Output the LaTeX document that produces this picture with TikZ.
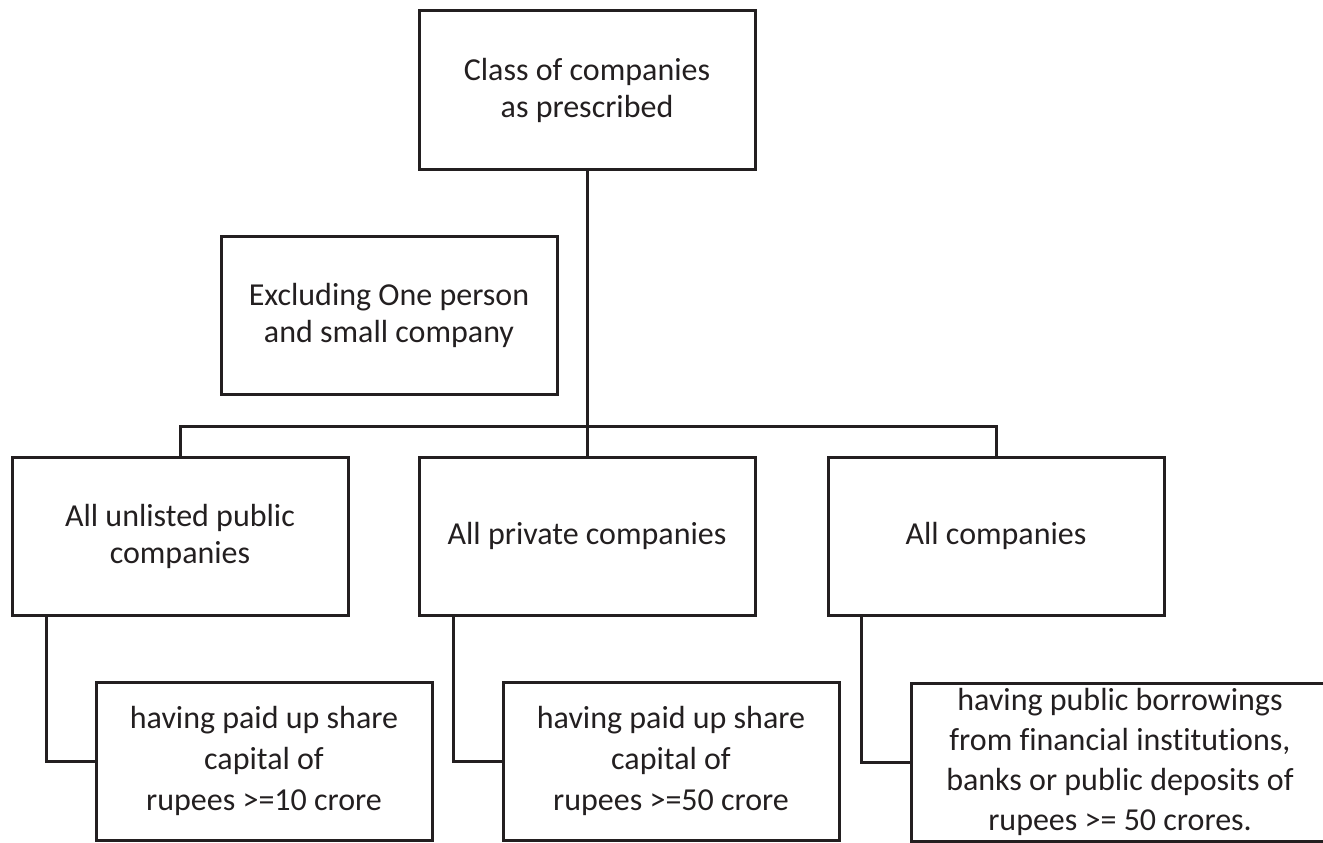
\documentclass[tikz,border=0pt]{standalone}
\usepackage{fontspec}
\setmainfont{Carlito}[Ligatures=NoCommon]
\definecolor{ink}{HTML}{231F20}
\begin{document}
\begin{tikzpicture}[x=1pt,y=-1pt,
  box/.style={draw=ink, line width=3pt, minimum width=336pt, minimum height=158pt,
    inner sep=0pt, align=center, text=ink, font=\fontsize{32}{37}\selectfont},
  lowbox/.style={box, font=\fontsize{32}{41}\selectfont},
  link/.style={draw=ink, line width=3pt}]
\useasboundingbox (0,0) rectangle (1323,843);
\node[box] (top) at (587,90) {Class of companies\\as prescribed};
\node[box] (excl) at (389,315) {Excluding One person\\and small company};
\node[box] (unl) at (180,536) {All unlisted public\\companies};
\node[box] (priv) at (587,536) {All private companies};
\node[box] (all) at (996,536) {All companies};
\node[lowbox] (unlc) at (264,761) {having paid up share\\capital of\\rupees >=10 crore};
\node[lowbox] (privc) at (671,761) {having paid up share\\capital of\\rupees >=50 crore};
\node[box, minimum width=418pt, font=\fontsize{32}{40}\selectfont] (allc) at (1120,762) {having public borrowings\\from financial institutions,\\banks or public deposits of\\rupees >= 50 crores.};
\coordinate (bus) at (587,426);
\draw[link] (top.south) -- (priv.north);
\draw[link] (unl.north) -- (unl.north |- bus) -- (all.north |- bus) -- (all.north);
\draw[link] ([xshift=-134pt]unl.south) |- (unlc.west);
\draw[link] ([xshift=-134pt]priv.south) |- (privc.west);
\draw[link] ([xshift=-135pt]all.south) |- (allc.west);
\end{tikzpicture}
\end{document}
